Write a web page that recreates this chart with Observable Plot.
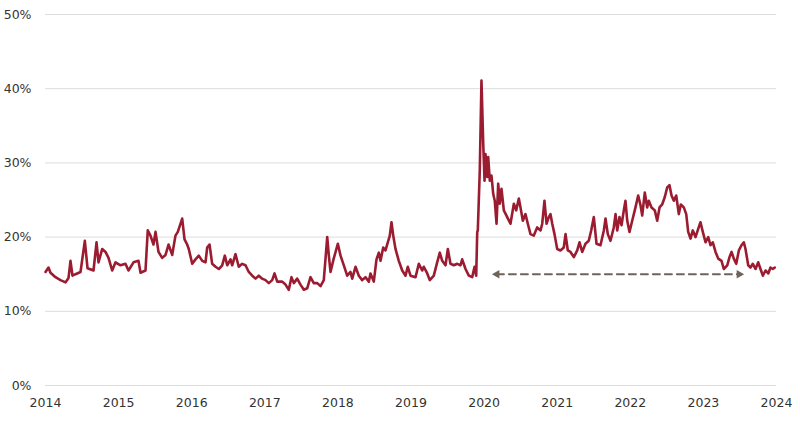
<!DOCTYPE html>
<html>
<head>
<meta charset="utf-8">
<script src="https://cdn.jsdelivr.net/npm/d3@7"></script>
<script src="https://cdn.jsdelivr.net/npm/@observablehq/plot@0.6"></script>
<style>
  html, body { margin: 0; padding: 0; background: #fff; }
  #chart svg { display: block; }
</style>
</head>
<body>
<div id="chart"></div>
<script>
// Decimal-year positions of the series readings
const dates = [
  2014.000, 2014.041, 2014.068, 2014.137, 2014.205, 2014.274, 2014.315, 2014.342, 2014.369, 2014.410,
  2014.479, 2014.538, 2014.575, 2014.657, 2014.698, 2014.725, 2014.776, 2014.821, 2014.862, 2014.912,
  2014.958, 2015.026, 2015.094, 2015.135, 2015.204, 2015.272, 2015.300, 2015.368, 2015.399, 2015.436,
  2015.477, 2015.505, 2015.546, 2015.596, 2015.642, 2015.683, 2015.733, 2015.778, 2015.810, 2015.870,
  2015.902, 2015.938, 2015.960, 2016.007, 2016.052, 2016.097, 2016.144, 2016.189, 2016.212, 2016.244,
  2016.280, 2016.326, 2016.371, 2016.417, 2016.453, 2016.486, 2016.531, 2016.554, 2016.599, 2016.644,
  2016.691, 2016.736, 2016.781, 2016.828, 2016.873, 2016.918, 2016.964, 2017.010, 2017.055, 2017.101,
  2017.133, 2017.170, 2017.238, 2017.283, 2017.328, 2017.365, 2017.397, 2017.443, 2017.488, 2017.534,
  2017.580, 2017.625, 2017.670, 2017.717, 2017.762, 2017.807, 2017.854, 2017.876, 2017.899, 2017.940,
  2017.999, 2018.036, 2018.081, 2018.127, 2018.172, 2018.196, 2018.241, 2018.286, 2018.332, 2018.378,
  2018.423, 2018.446, 2018.491, 2018.528, 2018.560, 2018.583, 2018.620, 2018.651, 2018.683, 2018.710,
  2018.733, 2018.757, 2018.788, 2018.833, 2018.880, 2018.925, 2018.956, 2018.993, 2019.062, 2019.107,
  2019.153, 2019.175, 2019.222, 2019.257, 2019.312, 2019.358, 2019.394, 2019.427, 2019.472, 2019.504,
  2019.540, 2019.586, 2019.632, 2019.677, 2019.700, 2019.746, 2019.791, 2019.837, 2019.869, 2019.892,
  2019.906, 2019.914, 2019.941, 2019.964, 2019.988, 2020.006, 2020.019, 2020.043, 2020.056, 2020.078,
  2020.101, 2020.125, 2020.146, 2020.170, 2020.193, 2020.215, 2020.238, 2020.270, 2020.316, 2020.361,
  2020.407, 2020.439, 2020.475, 2020.498, 2020.530, 2020.566, 2020.598, 2020.635, 2020.680, 2020.726,
  2020.772, 2020.795, 2020.826, 2020.854, 2020.885, 2020.908, 2020.932, 2020.963, 2021.000, 2021.045,
  2021.090, 2021.114, 2021.145, 2021.182, 2021.227, 2021.274, 2021.305, 2021.342, 2021.387, 2021.432,
  2021.465, 2021.501, 2021.538, 2021.592, 2021.638, 2021.661, 2021.692, 2021.729, 2021.774, 2021.798,
  2021.821, 2021.852, 2021.880, 2021.911, 2021.934, 2021.958, 2021.989, 2022.026, 2022.071, 2022.108,
  2022.140, 2022.163, 2022.198, 2022.231, 2022.253, 2022.290, 2022.335, 2022.368, 2022.400, 2022.436,
  2022.472, 2022.505, 2022.536, 2022.564, 2022.595, 2022.628, 2022.664, 2022.691, 2022.732, 2022.765,
  2022.792, 2022.824, 2022.855, 2022.892, 2022.929, 2022.960, 2022.992, 2023.029, 2023.066, 2023.097,
  2023.129, 2023.166, 2023.203, 2023.248, 2023.279, 2023.326, 2023.357, 2023.385, 2023.416, 2023.449,
  2023.485, 2023.521, 2023.553, 2023.576, 2023.613, 2023.644, 2023.676, 2023.713, 2023.750, 2023.781,
  2023.813, 2023.850, 2023.887, 2023.918, 2023.949, 2023.977
];

// Series values (%)
const values = [
  15.3, 15.9, 15.2, 14.6, 14.2, 13.9, 14.5, 16.8, 14.8, 15.0,
  15.3, 19.5, 15.8, 15.5, 19.3, 16.6, 18.4, 18.0, 17.2, 15.5,
  16.6, 16.2, 16.4, 15.5, 16.6, 16.8, 15.2, 15.5, 20.9, 20.2,
  19.0, 20.7, 18.0, 17.2, 17.6, 19.0, 17.6, 20.2, 20.7, 22.5,
  19.7, 19.0, 18.4, 16.4, 17.0, 17.5, 16.8, 16.6, 18.6, 19.0,
  16.4, 16.0, 15.7, 16.2, 17.5, 16.2, 17.0, 16.2, 17.7, 16.0,
  16.4, 16.2, 15.3, 14.8, 14.4, 14.8, 14.4, 14.2, 13.8, 14.2,
  15.1, 14.0, 14.0, 13.6, 12.9, 14.6, 13.8, 14.4, 13.6, 12.9,
  13.1, 14.6, 13.8, 13.8, 13.4, 14.2, 20.0, 17.5, 15.3, 17.0,
  19.1, 17.5, 16.2, 14.8, 15.3, 14.4, 16.0, 14.8, 14.2, 14.6,
  14.0, 15.1, 14.0, 17.0, 17.9, 16.8, 18.6, 18.2, 19.3, 20.2,
  22.0, 20.2, 18.4, 16.8, 15.5, 14.8, 16.0, 14.8, 14.6, 16.4,
  15.5, 16.0, 15.1, 14.2, 14.8, 16.6, 17.9, 16.8, 16.2, 18.4,
  16.4, 16.2, 16.4, 16.2, 17.0, 15.7, 14.8, 14.6, 16.0, 14.8,
  20.7, 20.9, 29.0, 41.1, 32.6, 27.6, 31.2, 28.1, 30.8, 27.6,
  28.3, 25.8, 24.9, 21.8, 27.2, 24.5, 26.5, 23.6, 22.7, 21.8,
  24.5, 23.6, 25.2, 24.0, 22.2, 23.1, 21.8, 20.4, 20.2, 21.3,
  20.9, 21.8, 24.9, 21.8, 22.7, 23.1, 21.8, 20.4, 18.4, 18.2,
  18.6, 20.4, 18.2, 18.0, 17.3, 18.2, 19.3, 18.0, 19.1, 19.5,
  20.9, 22.7, 19.1, 18.9, 20.9, 22.5, 20.4, 19.5, 21.3, 23.1,
  20.9, 22.7, 21.6, 23.6, 24.9, 22.2, 20.7, 22.2, 24.0, 25.6,
  24.3, 22.9, 26.0, 24.0, 24.9, 24.0, 23.6, 22.2, 24.0, 24.4,
  25.4, 26.7, 27.0, 25.6, 24.9, 25.6, 23.1, 24.4, 24.0, 23.1,
  20.7, 19.8, 20.9, 20.0, 21.1, 22.0, 20.7, 19.3, 20.0, 18.9,
  19.3, 18.0, 17.1, 16.8, 15.7, 16.2, 17.3, 18.0, 17.1, 16.4,
  18.2, 18.9, 19.3, 18.4, 16.2, 15.9, 16.4, 15.7, 16.6, 15.7,
  14.8, 15.5, 15.1, 15.9, 15.7, 15.9
];

// Tick labels
const xTicks = [2014, 2015, 2016, 2017, 2018, 2019, 2020, 2021, 2022, 2023, 2024];
const yTicks = [0, 10, 20, 30, 40, 50];

// Double-headed dashed arrow annotation (years, level %)
const arrowStart = 2020.175;
const arrowEnd = 2023.489;
const arrowLevel = 15.0;

const series = dates.map((d, i) => ({date: d, value: values[i]}));
const arrowLine = [{date: arrowStart, value: arrowLevel}, {date: arrowEnd, value: arrowLevel}];
const arrowHeads = [
  {date: arrowStart, value: arrowLevel, rot: -90},
  {date: arrowEnd, value: arrowLevel, rot: 90}
];

const chart = Plot.plot({
  width: 800,
  height: 423,
  marginLeft: 45,
  marginRight: 24,
  marginTop: 14,
  marginBottom: 38,
  style: {fontFamily: "'DejaVu Sans', sans-serif", fontSize: "12.5px", color: "#333", background: "#fff"},
  x: {domain: [2014, 2024], label: null},
  y: {domain: [0, 50], label: null},
  marks: [
    Plot.gridY(yTicks, {stroke: "#dcdcdc", strokeOpacity: 1, strokeWidth: 1}),
    Plot.axisY(yTicks, {tickSize: 0, tickPadding: 14, tickFormat: d => d + "%", fill: "#333", label: null}),
    Plot.axisX(xTicks, {tickSize: 0, tickPadding: 13, tickFormat: d => String(d), fill: "#333", label: null}),
    Plot.line(arrowLine, {x: "date", y: "value", stroke: "#6e6459", strokeWidth: 2, strokeDasharray: "7,5"}),
    Plot.dot(arrowHeads, {x: "date", y: "value", symbol: "triangle", r: 3.2, fill: "#6e6459", stroke: "none", rotate: "rot"}),
    Plot.line(series, {x: "date", y: "value", stroke: "#9b1c31", strokeWidth: 2.6, strokeLinejoin: "round"})
  ]
});

document.getElementById("chart").appendChild(chart);
</script>
</body>
</html>
